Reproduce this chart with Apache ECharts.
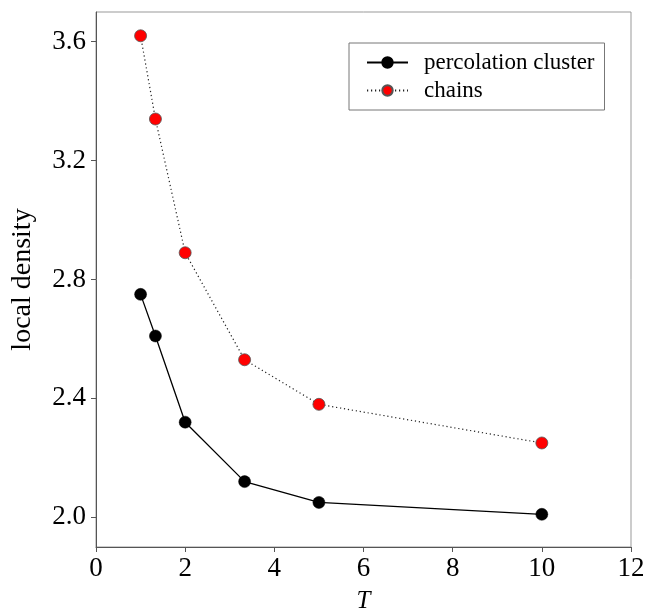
<!DOCTYPE html>
<html><head><meta charset="utf-8">
<script src="https://cdn.jsdelivr.net/npm/echarts@6/dist/echarts.min.js"></script>
<style>html,body{margin:0;padding:0;background:#fff}#c{width:649px;height:609px}</style>
</head><body><div id="c"></div>
<script>
const T = [1, 1.333, 2, 3.333, 5, 10];
const percolation = [2.75, 2.61, 2.32, 2.12, 2.05, 2.01];
const chains = [3.62, 3.34, 2.89, 2.53, 2.38, 2.25];
const yTicks = [2.0, 2.4, 2.8, 3.2, 3.6];
const seriesNames = ['percolation cluster', 'chains'];

const font = 'Liberation Serif';
const chart = echarts.init(document.getElementById('c'));
chart.setOption({
  animation: false,
  backgroundColor: '#fff',
  grid: {left: 96, right: 18, top: 12, bottom: 62, show: true, borderColor: '#999', borderWidth: 1,
    containLabel: false, outerBoundsMode: 'none'},
  legend: {
    orient: 'vertical', left: 349, top: 43,
    padding: [8, 10, 8, 17], itemGap: 5,
    borderColor: '#777', borderWidth: 1,
    itemWidth: 41, itemHeight: 13,
    textStyle: {fontFamily: font, fontSize: 23, lineHeight: 23, color: '#000', padding: [0, 0, 0, 11]},
    data: seriesNames
  },
  xAxis: {
    type: 'value', min: 0, max: 12, interval: 2,
    name: 'T', nameLocation: 'middle', nameGap: 42,
    nameTextStyle: {fontFamily: font, fontSize: 25, fontStyle: 'italic', color: '#000'},
    axisLine: {lineStyle: {color: '#555'}},
    axisTick: {inside: false, length: 5, lineStyle: {color: '#555'}},
    axisLabel: {fontFamily: font, fontSize: 27, color: '#000', margin: 8},
    splitLine: {show: false}
  },
  yAxis: {
    type: 'value', min: 1.9, max: 3.7,
    name: 'local density', nameLocation: 'middle', nameGap: 59,
    nameTextStyle: {fontFamily: font, fontSize: 28, color: '#000'},
    axisLine: {show: true, lineStyle: {color: '#555'}},
    axisTick: {show: true, length: 5, lineStyle: {color: '#555'}, customValues: yTicks},
    axisLabel: {fontFamily: font, fontSize: 27, color: '#000', margin: 10,
      customValues: yTicks, formatter: v => v.toFixed(1)},
    splitLine: {show: false}
  },
  series: [
    {
      name: seriesNames[0], type: 'line',
      data: T.map((t, i) => [t, percolation[i]]),
      symbol: 'circle', symbolSize: 12,
      lineStyle: {color: '#000', width: 1.3},
      itemStyle: {color: '#000', borderColor: '#000', borderWidth: 0.5}
    },
    {
      name: seriesNames[1], type: 'line',
      data: T.map((t, i) => [t, chains[i]]),
      symbol: 'circle', symbolSize: 12,
      lineStyle: {color: '#222', width: 1.2, type: [1.2, 2.8]},
      itemStyle: {color: '#ff0000', borderColor: '#555', borderWidth: 0.8}
    }
  ]
});
</script></body></html>
